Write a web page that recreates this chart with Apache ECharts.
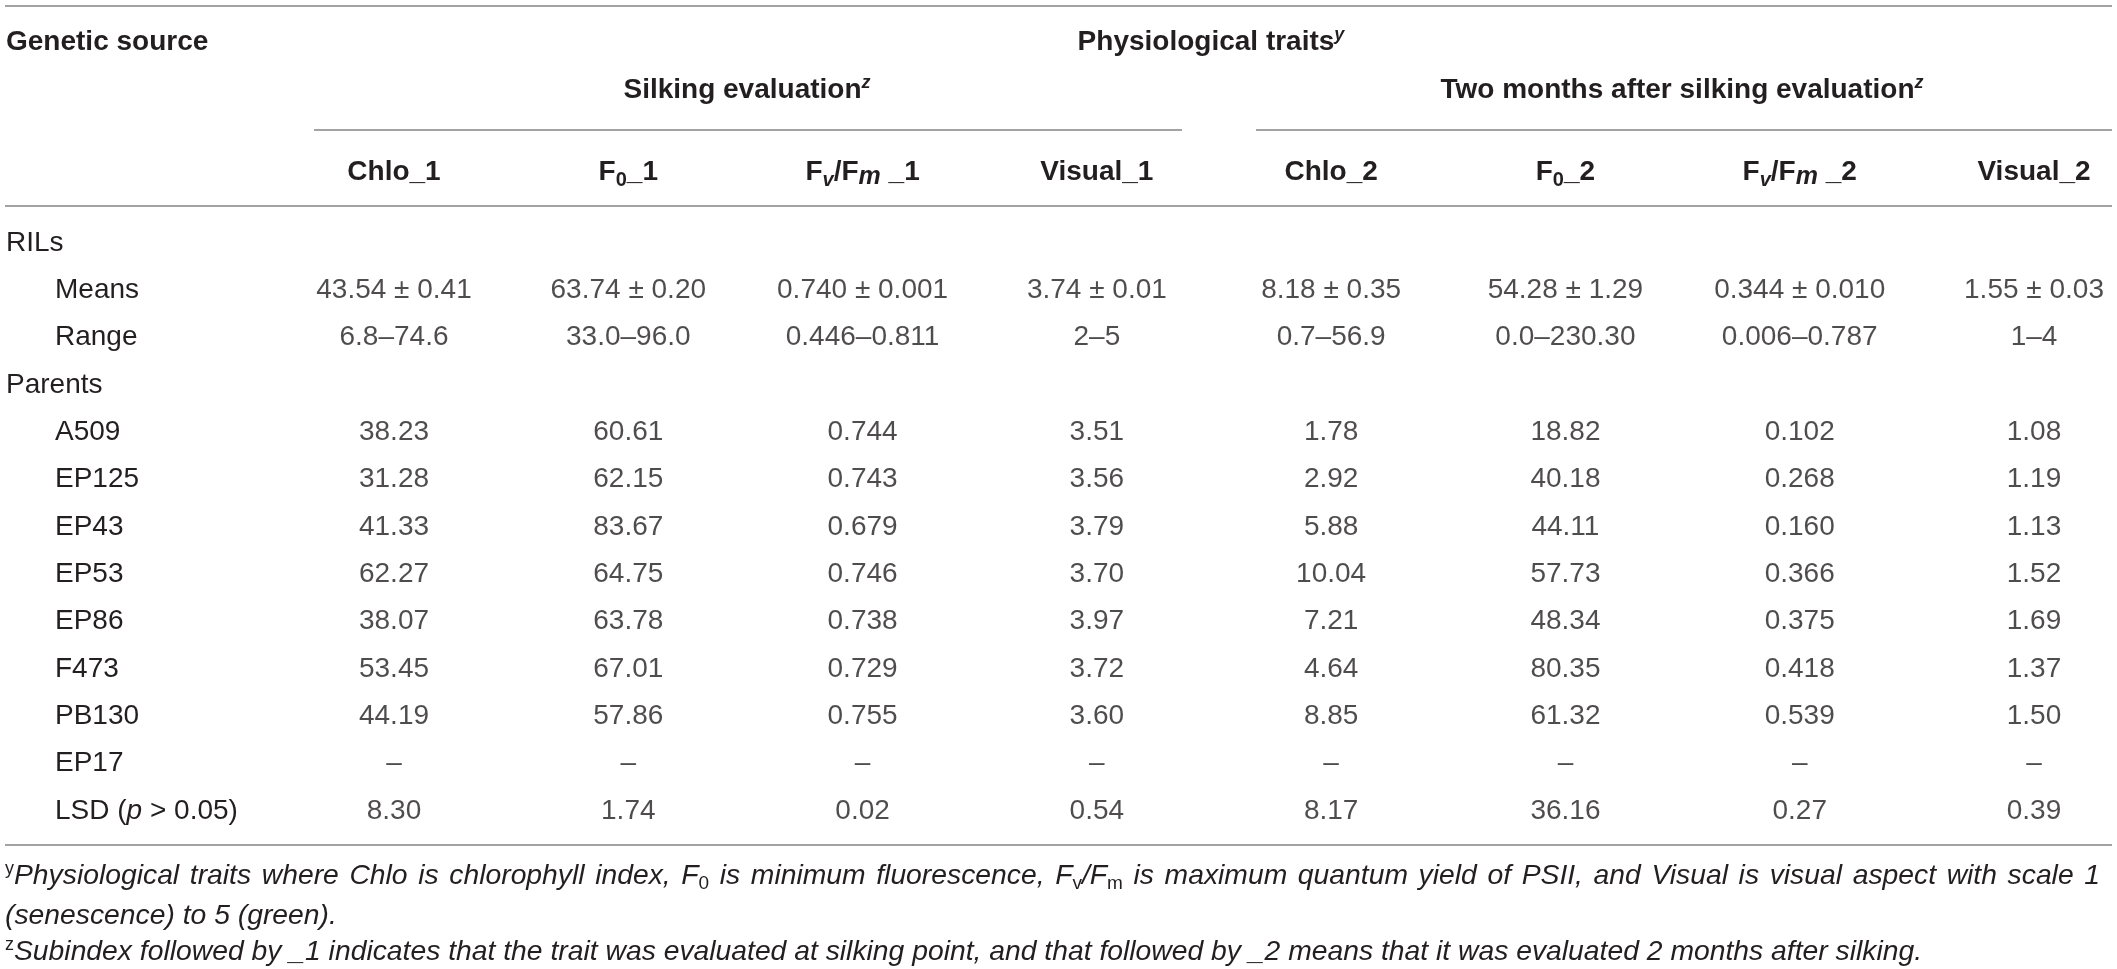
<!DOCTYPE html>
<html>
<head>
<meta charset="utf-8">
<script src="https://cdn.jsdelivr.net/npm/echarts/dist/echarts.min.js"></script>
<style>
html,body{margin:0;padding:0;background:#fff;}
#chart{width:2117px;height:969px;}
</style>
</head>
<body>
<div id="chart"></div>
<script>
// ---------- DATA ----------
const columnLabels = ['Chlo_1', 'F0_1', 'Fv/Fm _1', 'Visual_1', 'Chlo_2', 'F0_2', 'Fv/Fm _2', 'Visual_2'];
const rowLabels = ['RILs', 'Means', 'Range', 'Parents', 'A509', 'EP125', 'EP43', 'EP53', 'EP86', 'F473', 'PB130', 'EP17', 'LSD (p > 0.05)'];
const groupRows = ['RILs', 'Parents'];

const meansValues = ['43.54 ± 0.41', '63.74 ± 0.20', '0.740 ± 0.001', '3.74 ± 0.01', '8.18 ± 0.35', '54.28 ± 1.29', '0.344 ± 0.010', '1.55 ± 0.03'];
const rangeValues = ['6.8–74.6', '33.0–96.0', '0.446–0.811', '2–5', '0.7–56.9', '0.0–230.30', '0.006–0.787', '1–4'];
const a509Values  = ['38.23', '60.61', '0.744', '3.51', '1.78', '18.82', '0.102', '1.08'];
const ep125Values = ['31.28', '62.15', '0.743', '3.56', '2.92', '40.18', '0.268', '1.19'];
const ep43Values  = ['41.33', '83.67', '0.679', '3.79', '5.88', '44.11', '0.160', '1.13'];
const ep53Values  = ['62.27', '64.75', '0.746', '3.70', '10.04', '57.73', '0.366', '1.52'];
const ep86Values  = ['38.07', '63.78', '0.738', '3.97', '7.21', '48.34', '0.375', '1.69'];
const f473Values  = ['53.45', '67.01', '0.729', '3.72', '4.64', '80.35', '0.418', '1.37'];
const pb130Values = ['44.19', '57.86', '0.755', '3.60', '8.85', '61.32', '0.539', '1.50'];
const ep17Values  = ['–', '–', '–', '–', '–', '–', '–', '–'];
const lsdValues   = ['8.30', '1.74', '0.02', '0.54', '8.17', '36.16', '0.27', '0.39'];

const rowValues = {
  'Means': meansValues, 'Range': rangeValues, 'A509': a509Values, 'EP125': ep125Values,
  'EP43': ep43Values, 'EP53': ep53Values, 'EP86': ep86Values, 'F473': f473Values,
  'PB130': pb130Values, 'EP17': ep17Values, 'LSD (p > 0.05)': lsdValues
};

// footnote pieces: [style, text]
const footnoteY = [['sup', 'y'], ['t', 'Physiological traits where Chlo is chlorophyll index, F'], ['sub', '0'],
  ['t', ' is minimum fluorescence, F'], ['sub', 'v'], ['t', '/F'], ['sub', 'm'],
  ['t', ' is maximum quantum yield of PSII, and Visual is visual aspect with scale 1']];
const footnoteY2 = '(senescence) to 5 (green).';
const footnoteZ = 'Subindex followed by _1 indicates that the trait was evaluated at silking point, and that followed by _2 means that it was evaluated 2 months after silking.';

// ---------- STYLE ----------
const FONT = "'Liberation Sans', Arial, Helvetica, sans-serif";
const TXT = '#231f20';
const LINE = '#a3a3a3';
const FOOT_SIZE = 28.3;

const cells = [];
rowLabels.forEach((r, ri) => {
  const vals = rowValues[r];
  if (!vals) return;
  vals.forEach((v, ci) => cells.push([ci, ri, v]));
});

function headerFormatter(v) {
  if (v.indexOf('F0') === 0) return '{b|F}{s|0}{b|' + v.slice(2) + '}';
  if (v.indexOf('Fv/Fm') === 0) return '{b|F}{si|v}{b|/F}{sm|m}{b|' + v.slice(5) + '}';
  return '{b|' + v + '}';
}
function rowFormatter(v) {
  if (groupRows.indexOf(v) >= 0) return '{g|' + v + '}';
  if (v.indexOf('LSD') === 0) return '{i|LSD (}{it|p}{n| > 0.05)}';
  return '{i|' + v + '}';
}

// justify the first footnote line across the table width
const mctx = document.createElement('canvas').getContext('2d');
const footFonts = {
  t: 'italic normal ' + FOOT_SIZE + 'px ' + FONT,
  sup: 'normal normal 18px ' + FONT,
  sub: 'normal normal 19px ' + FONT
};
function measure(font, s) { mctx.font = font; return mctx.measureText(s).width; }
function justified(pieces, left, right) {
  const tokens = [];
  pieces.forEach(([st, txt]) => {
    if (st !== 't') { tokens.push([st, txt]); return; }
    txt.split(/( )/).forEach(part => {
      if (part === '') return;
      tokens.push(part === ' ' ? ['sp', ' '] : ['t', part]);
    });
  });
  let natural = 0, nsp = 0;
  tokens.forEach(([st, txt]) => {
    natural += measure(footFonts[st === 'sp' ? 't' : st], txt);
    if (st === 'sp') nsp++;
  });
  const spaceW = measure(footFonts.t, ' ');
  const extra = Math.max(0, (right - left - natural) / nsp);
  return {
    text: tokens.map(([st, txt]) => '{' + st + '|' + txt + '}').join(''),
    spaceWidth: spaceW + extra
  };
}
const foot1 = justified(footnoteY, 5, 2100);

const chart = echarts.init(document.getElementById('chart'), null, { renderer: 'canvas' });

const headRich = {
  b: { fontSize: 28, fontWeight: 'bold', fontFamily: FONT, fill: TXT, lineHeight: 34 },
  sup: { fontSize: 18, fontWeight: 'bold', fontStyle: 'italic', fontFamily: FONT, fill: TXT, lineHeight: 20, padding: [0, 0, 14, 0] }
};
const footRich = {
  t: { fontSize: FOOT_SIZE, fontStyle: 'italic', fontFamily: FONT, fill: TXT, lineHeight: 34 },
  sp: { fontSize: FOOT_SIZE, fontStyle: 'italic', fontFamily: FONT, fill: TXT, lineHeight: 34, width: foot1.spaceWidth },
  sup: { fontSize: 18, fontFamily: FONT, fill: TXT, lineHeight: 20, padding: [0, 0, 14, 0] },
  sub: { fontSize: 19, fontFamily: FONT, fill: TXT, lineHeight: 20, padding: [15, 0, 0, 0] }
};

const option = {
  animation: false,
  backgroundColor: '#ffffff',
  grid: { left: 394, right: 83, top: 243, bottom: 158, containLabel: false, outerBoundsMode: 'none' },
  xAxis: {
    type: 'category',
    position: 'top',
    data: columnLabels,
    boundaryGap: false,
    axisLine: { show: false },
    axisTick: { show: false },
    splitLine: { show: false },
    axisLabel: {
      interval: 0,
      margin: 71,
      verticalAlign: 'middle',
      formatter: headerFormatter,
      rich: {
        b: { fontSize: 28, fontWeight: 'bold', fontFamily: FONT, color: TXT, lineHeight: 34 },
        s: { fontSize: 20, fontWeight: 'bold', fontFamily: FONT, color: TXT, lineHeight: 20, padding: [16, 0, 0, 0] },
        si: { fontSize: 20, fontWeight: 'bold', fontStyle: 'italic', fontFamily: FONT, color: TXT, lineHeight: 20, padding: [16, 0, 0, 0] },
        sm: { fontSize: 25, fontWeight: 'bold', fontStyle: 'italic', fontFamily: FONT, color: TXT, lineHeight: 25, padding: [10, 0, 0, 0] }
      }
    }
  },
  yAxis: {
    type: 'category',
    inverse: true,
    data: rowLabels,
    boundaryGap: false,
    axisLine: { show: false },
    axisTick: { show: false },
    splitLine: { show: false },
    axisLabel: {
      interval: 0,
      align: 'left',
      margin: 388,
      formatter: rowFormatter,
      rich: {
        g: { fontSize: 28, fontFamily: FONT, color: TXT },
        i: { fontSize: 28, fontFamily: FONT, color: TXT, padding: [0, 0, 0, 49] },
        it: { fontSize: 28, fontFamily: FONT, fontStyle: 'italic', color: TXT },
        n: { fontSize: 28, fontFamily: FONT, color: TXT }
      }
    }
  },
  series: [{
    type: 'scatter',
    data: cells,
    symbolSize: 0,
    silent: true,
    itemStyle: { color: 'transparent' },
    label: {
      show: true,
      position: 'inside',
      formatter: p => p.value[2],
      fontSize: 28,
      fontFamily: FONT,
      color: TXT
    }
  }],
  graphic: [
    { type: 'line', shape: { x1: 5, y1: 6, x2: 2112, y2: 6 }, style: { stroke: LINE, lineWidth: 2 } },
    { type: 'line', shape: { x1: 314, y1: 130, x2: 1182, y2: 130 }, style: { stroke: LINE, lineWidth: 2 } },
    { type: 'line', shape: { x1: 1256, y1: 130, x2: 2112, y2: 130 }, style: { stroke: LINE, lineWidth: 2 } },
    { type: 'line', shape: { x1: 5, y1: 206, x2: 2112, y2: 206 }, style: { stroke: LINE, lineWidth: 2 } },
    { type: 'line', shape: { x1: 5, y1: 845, x2: 2112, y2: 845 }, style: { stroke: LINE, lineWidth: 2 } },
    { type: 'text', x: 6, y: 42, style: { text: '{b|Genetic source}', rich: headRich, align: 'left', verticalAlign: 'middle' } },
    { type: 'text', x: 1211, y: 42, style: { text: '{b|Physiological traits}{sup|y}', rich: headRich, align: 'center', verticalAlign: 'middle' } },
    { type: 'text', x: 747, y: 90, style: { text: '{b|Silking evaluation}{sup|z}', rich: headRich, align: 'center', verticalAlign: 'middle' } },
    { type: 'text', x: 1682, y: 90, style: { text: '{b|Two months after silking evaluation}{sup|z}', rich: headRich, align: 'center', verticalAlign: 'middle' } },
    { type: 'text', x: 5, y: 876, style: { text: foot1.text, rich: footRich, align: 'left', verticalAlign: 'middle' } },
    { type: 'text', x: 5, y: 916, style: { text: '{t|' + footnoteY2 + '}', rich: footRich, align: 'left', verticalAlign: 'middle' } },
    { type: 'text', x: 5, y: 952, style: { text: '{sup|z}{t|' + footnoteZ + '}', rich: footRich, align: 'left', verticalAlign: 'middle' } }
  ]
};
chart.setOption(option);
</script>
</body>
</html>
